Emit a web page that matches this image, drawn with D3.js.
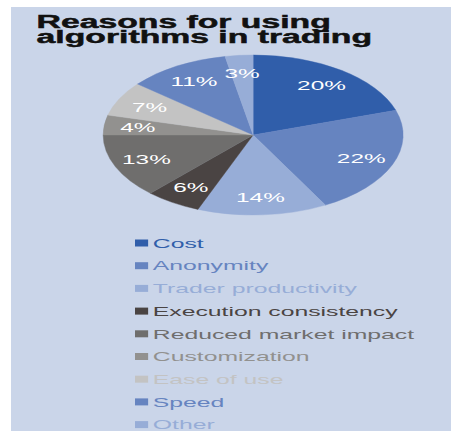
<!DOCTYPE html>
<html>
<head>
<meta charset="utf-8">
<script src="https://cdn.jsdelivr.net/npm/d3@7"></script>
<style>
  html, body { margin: 0; padding: 0; background: #fff; }
  svg { display: block; }
</style>
</head>
<body>
<div id="chart"></div>
<script>
const categories = ["Cost", "Anonymity", "Trader productivity", "Execution consistency",
  "Reduced market impact", "Customization", "Ease of use", "Speed", "Other"];
const shares = [20, 22, 14, 6, 13, 4, 7, 11, 3];
const colors = ["#305eaa", "#6684c0", "#97add7", "#4a4443", "#6f6e6d",
  "#92918f", "#c3c3c3", "#6684c0", "#97add7"];
const titleLines = ["Reasons for using", "algorithms in trading"];

const W = 451, H = 431;
const sx = 1.875; // the picture is stretched sideways

const svg = d3.select("#chart").append("svg")
  .attr("width", W).attr("height", H);

// panel
svg.append("rect")
  .attr("x", 11).attr("y", 7)
  .attr("width", W - 11).attr("height", H - 7)
  .attr("fill", "#cad5e9");

const g = svg.append("g").attr("transform", `scale(${sx},1)`);

// title, two lines with tight leading (as in the original)
g.append("g").selectAll("text").data(titleLines).join("text")
  .attr("x", 19.5).attr("y", (d, i) => 28 + i * 15.3)
  .style("font-family", "Arial, 'Liberation Sans', sans-serif")
  .style("font-size", "18px").style("font-weight", "bold")
  .style("fill", "#111").style("stroke", "#111").style("stroke-width", 0.45)
  .text(d => d);

// pie
const cx = 135, cy = 135, R = 80;
const pie = d3.pie().sort(null).value(d => d.v);
const arcs = pie(shares.map((v, i) => ({ v, name: categories[i], color: colors[i] })));
const arc = d3.arc().innerRadius(0).outerRadius(R);
const labelArc = d3.arc().innerRadius(62).outerRadius(62);

const pg = g.append("g").attr("transform", `translate(${cx},${cy})`);

pg.selectAll("path").data(arcs).join("path")
  .attr("d", arc)
  .attr("fill", d => d.data.color)
  .attr("stroke", d => d.data.color)
  .attr("stroke-width", 0.3);

pg.selectAll("text").data(arcs).join("text")
  .attr("transform", d => `translate(${labelArc.centroid(d)})`)
  .attr("text-anchor", "middle")
  .attr("dy", "0.36em")
  .style("font-family", "Arial, 'Liberation Sans', sans-serif")
  .style("font-size", "13px")
  .style("fill", "#fff")
  .text(d => d.data.v + "%");

// legend
const y = d3.scaleLinear().domain([0, 1]).range([243, 265.7]);
const leg = g.append("g").selectAll("g").data(categories).join("g")
  .attr("transform", (d, i) => `translate(72,${y(i)})`);

leg.append("rect")
  .attr("x", 0).attr("y", -3.5)
  .attr("width", 7).attr("height", 7)
  .attr("fill", (d, i) => colors[i]);

leg.append("text")
  .attr("x", 9.5).attr("dy", "0.36em")
  .style("font-family", "Arial, 'Liberation Sans', sans-serif")
  .style("font-size", "13.2px")
  .style("fill", (d, i) => colors[i])
  .text(d => d);
</script>
</body>
</html>
